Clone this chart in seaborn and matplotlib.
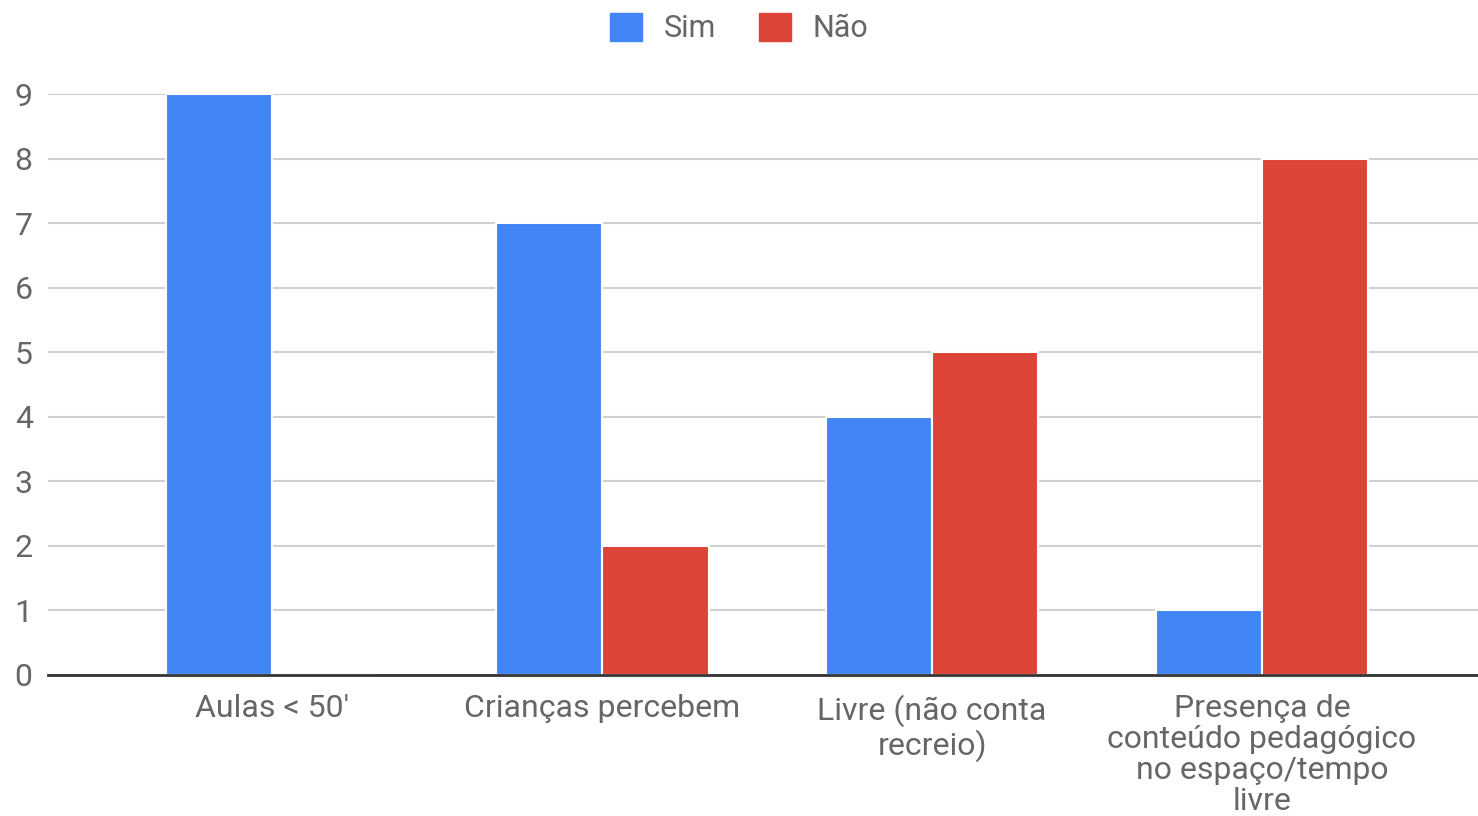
import matplotlib
matplotlib.use("Agg")
import matplotlib.pyplot as plt
import seaborn as sns
import pandas as pd

categories = [
    "Aulas < 50'",
    "Crianças percebem",
    "Livre (não conta\nrecreio)",
    "Presença de\nconteúdo pedagógico\nno espaço/tempo\nlivre",
]
series_names = ["Sim", "Não"]
sim_values = [9, 7, 4, 1]
nao_values = [0, 2, 5, 8]
y_ticks = [0, 1, 2, 3, 4, 5, 6, 7, 8, 9]
colors = ["#4285F4", "#DB4437"]

sns.set_theme(style="white")
plt.rcParams["font.family"] = ["Roboto", "DejaVu Sans"]

df = pd.DataFrame({
    "categoria": categories * 2,
    "resposta": [series_names[0]] * len(categories) + [series_names[1]] * len(categories),
    "valor": sim_values + nao_values,
})

fig = plt.figure(figsize=(14.78, 8.16), dpi=100)
ax = fig.add_axes([48 / 1478, 1 - 675 / 816, 1 - 48 / 1478, (675 - 94) / 816])

sns.barplot(
    data=df, x="categoria", y="valor", hue="resposta",
    palette=colors, width=0.645, ax=ax,
    edgecolor="white", linewidth=1.5, saturation=1, legend=False,
)

text_color = "#666666"
ax.set_ylim(0, 9)
ax.set_xlim(-0.68, 3.655)
ax.set_yticks(y_ticks)
ax.set_yticklabels([str(t) for t in y_ticks])
ax.set_xlabel("")
ax.set_ylabel("")
ax.grid(axis="y", color="#d0d0d0", linewidth=1.5)
ax.set_axisbelow(True)
for side in ["top", "right", "left"]:
    ax.spines[side].set_visible(False)
ax.spines["bottom"].set_color("#333333")
ax.spines["bottom"].set_linewidth(2)
ax.spines["bottom"].set_zorder(5)
ax.tick_params(axis="y", length=0, pad=11, labelsize=23, labelcolor=text_color)
ax.tick_params(axis="x", length=0, pad=14, labelsize=23, labelcolor=text_color)
for lbl in ax.get_xticklabels():
    lbl.set_linespacing(1.08)

handles = [plt.Rectangle((0, 0), 1, 1, color=c) for c in colors]
fig.legend(
    handles, series_names, loc="upper center", bbox_to_anchor=(0.5, 1.018),
    ncol=2, frameon=False, fontsize=22, labelcolor=text_color,
    handlelength=1.05, handleheight=1.05, columnspacing=1.4, handletextpad=0.7,
)

fig.savefig("out.png", dpi=100, facecolor="white")
